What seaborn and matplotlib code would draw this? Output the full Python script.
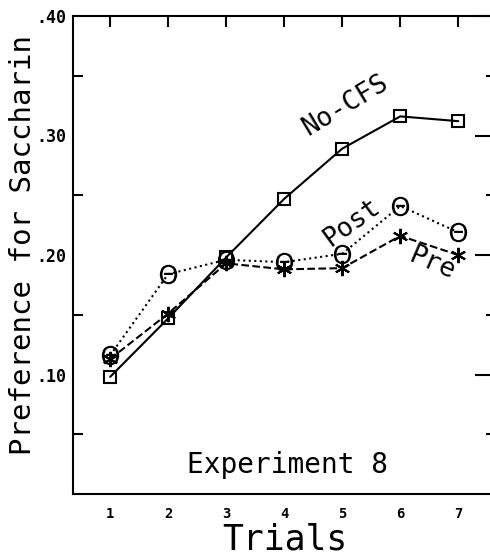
import numpy as np
import pandas as pd
import matplotlib
matplotlib.use('Agg')
import matplotlib.pyplot as plt
import seaborn as sns

# --- datos ---
trials = [1, 2, 3, 4, 5, 6, 7]
no_cfs = [0.098, 0.147, 0.198, 0.247, 0.289, 0.316, 0.312]
post = [0.116, 0.184, 0.196, 0.194, 0.201, 0.241, 0.219]
pre = [0.113, 0.151, 0.193, 0.188, 0.189, 0.216, 0.200]

y_major = [0.10, 0.20, 0.30, 0.40]
y_major_labels = ['.10', '.20', '.30', '.40']
y_minor = [0.05, 0.15, 0.25, 0.35]

sns.set_style('white')
plt.rcParams['font.family'] = ['DejaVu Sans Mono', 'DejaVu Sans']
plt.rcParams['text.color'] = 'black'
plt.rcParams['xtick.color'] = 'black'
plt.rcParams['ytick.color'] = 'black'

fig = plt.figure(figsize=(4.9, 5.58), dpi=100)
W, H = 490, 558
ax = fig.add_axes([73 / W, (H - 494) / H, (496 - 73) / W, (494 - 16) / H])

# (valores, marcador, linea, tamano, relleno, borde)
series = [
    (no_cfs, 's', '-', 9, 'none', 1.5),
    (post, r'$\Theta$', ':', 14, 'black', 0),
    (pre, (6, 2, 0), '--', 11, 'none', 1.5),
]
for vals, mk, ls, ms, fc, mew in series:
    df = pd.DataFrame({'trial': trials, 'pref': vals})
    sns.lineplot(data=df, x='trial', y='pref', ax=ax, color='black',
                 linestyle=ls, linewidth=1.5, marker=mk, markersize=ms,
                 markerfacecolor=fc, markeredgecolor='black',
                 markeredgewidth=mew, clip_on=False)

ax.set_xlim(0.36, 7.65)
ax.set_ylim(0, 0.40)
ax.set_xticks(trials)
ax.set_xticklabels([str(t) for t in trials], fontweight='bold', fontsize=10)
ax.set_yticks(y_major)
ax.set_yticklabels(y_major_labels, fontweight='bold', fontsize=12)
ax.set_yticks(y_minor, minor=True)
ax.tick_params(axis='both', which='major', direction='in', length=15,
               width=1.5, top=True, right=True, pad=5)
ax.tick_params(axis='x', which='major', length=8, pad=9)
ax.tick_params(axis='y', which='minor', direction='in', length=7,
               width=1.5, left=True, right=True)
for s in ['left', 'bottom', 'top']:
    ax.spines[s].set_linewidth(1.5)
    ax.spines[s].set_color('black')
ax.spines['right'].set_visible(False)
ax.set_xlabel('')
ax.set_ylabel('')

# etiquetas de las curvas
ax.text(5.05, 0.325, 'No-CFS', rotation=31, fontsize=19,
        ha='center', va='center')
ax.text(5.17, 0.227, 'Post', rotation=36, fontsize=19,
        ha='center', va='center')
ax.text(6.55, 0.193, 'Pre', rotation=-23, fontsize=19,
        ha='center', va='center')
ax.text(4.05, 0.024, 'Experiment 8', fontsize=20, ha='center', va='center')

fig.text(23 / W, 1 - 245 / H, 'Preference for Saccharin', rotation=90,
         fontsize=21, ha='center', va='center')
fig.text(285 / W, 1 - 550 / H, 'Trials', fontsize=25,
         ha='center', va='baseline')

fig.savefig('out.png', dpi=100)
